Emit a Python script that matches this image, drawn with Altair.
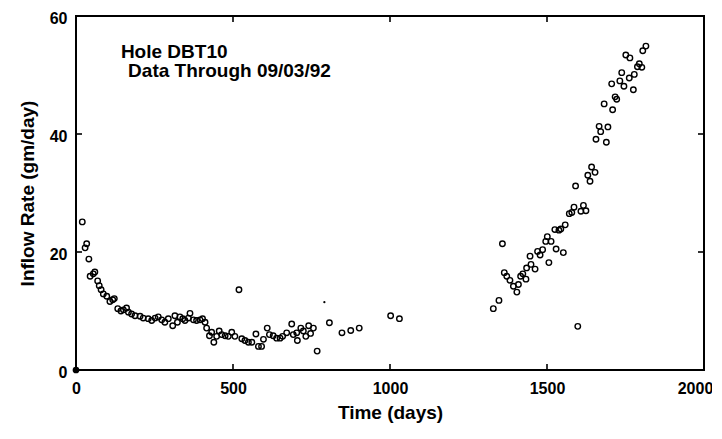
import altair as alt
import pandas as pd

# Hole DBT10 inflow rate readings
days = [20, 29, 34, 41, 45, 55, 60, 69, 74, 80, 87, 98, 108, 117, 122, 133, 143, 151, 161,
        167, 177, 188, 204, 214, 230, 241, 252, 262, 273, 283, 294, 308, 315, 323, 331, 340,
        347, 358, 363, 374, 384, 395, 403, 411, 416, 425, 432, 439, 448, 456, 464, 475, 485,
        496, 506, 519, 528, 538, 549, 560, 573, 581, 591, 597, 609, 616, 628, 639, 650, 658,
        671, 687, 692, 703, 705, 716, 724, 732, 741, 747, 756, 768, 807, 847, 875, 902,
        1002, 1030,
        1329, 1347, 1358, 1364, 1372, 1382, 1393, 1404, 1409, 1416, 1423, 1433, 1435, 1446,
        1449, 1462, 1470, 1478, 1486, 1496, 1501, 1506, 1513, 1525, 1529, 1538, 1544, 1552,
        1558, 1571, 1579, 1586, 1591, 1598, 1608, 1616, 1624, 1630, 1637, 1642, 1653, 1656,
        1666, 1671, 1682, 1689, 1694, 1706, 1709, 1717, 1722, 1732, 1738, 1745, 1751, 1762,
        1764, 1775, 1778, 1788, 1794, 1802, 1805, 1815]
rates = [25.1, 20.7, 21.4, 18.8, 15.9, 16.3, 16.6, 15.1, 14.3, 13.6, 12.9, 12.5, 11.6, 11.9,
         12.1, 10.4, 10.0, 10.2, 10.5, 9.8, 9.5, 9.2, 9.1, 8.8, 8.7, 8.4, 8.8, 9.0, 8.5, 8.1,
         8.7, 7.5, 9.2, 8.1, 9.0, 8.7, 8.4, 8.8, 9.6, 8.5, 8.4, 8.5, 8.7, 8.1, 7.1, 5.8, 6.4,
         4.7, 5.7, 6.6, 6.0, 5.8, 5.7, 6.4, 5.7, 13.6, 5.3, 5.0, 4.7, 4.7, 6.1, 4.0, 4.0, 5.2,
         7.1, 6.0, 5.8, 5.4, 5.4, 5.7, 6.3, 7.8, 6.0, 6.3, 5.0, 7.1, 6.6, 5.7, 7.5, 6.2, 7.1,
         3.2, 8.0, 6.3, 6.7, 7.1,
         9.2, 8.7,
         10.4, 11.8, 21.4, 16.5, 15.9, 15.2, 14.2, 13.2, 14.5, 15.9, 16.3, 15.4, 17.3, 19.3,
         17.9, 17.1, 20.1, 19.5, 20.4, 21.8, 22.6, 18.2, 21.8, 23.8, 20.5, 23.7, 23.9, 19.9,
         24.6, 26.5, 26.7, 27.6, 31.2, 7.4, 26.9, 27.9, 27.0, 33.0, 32.0, 34.4, 33.5, 39.1,
         41.3, 40.4, 45.1, 38.6, 41.2, 48.5, 44.1, 46.3, 45.9, 49.0, 50.4, 48.1, 53.4, 49.5,
         52.9, 47.5, 50.1, 51.4, 51.9, 51.3, 54.1, 54.9]

origin_day = [0]
origin_rate = [0]
small_day = [791]
small_rate = [11.5]

x_ticks = [500, 1000, 1500]
y_ticks = [20, 40]

note_lines = ["Hole DBT10", "Data Through 09/03/92"]
note_day = [143, 166]
note_rate = [52.8, 49.7]

W, H = 628, 354
FONT = "Liberation Sans"

df = pd.DataFrame({"day": days, "rate": rates})
df_origin = pd.DataFrame({"day": origin_day, "rate": origin_rate})
df_small = pd.DataFrame({"day": small_day, "rate": small_rate})
df_xt = pd.DataFrame({"day": x_ticks})
df_yt = pd.DataFrame({"rate": y_ticks})
df_note = pd.DataFrame({"day": note_day, "rate": note_rate, "label": note_lines})
df_one = pd.DataFrame({"k": [0]})

X = alt.X("day:Q", scale=alt.Scale(domain=[0, 2000], nice=False, zero=False),
          axis=alt.Axis(values=[0, 500, 1000, 1500, 2000], title="Time (days)", grid=False,
                        domain=False, ticks=False, labelPadding=10, format="d",
                        labelFlush=False,
                        labelOffset=alt.expr("datum.value == 2000 ? -9 : 0"),
                        titleBaseline="alphabetic", titleY=48))
Y = alt.Y("rate:Q", scale=alt.Scale(domain=[0, 60], nice=False, zero=False),
          axis=alt.Axis(values=[0, 20, 40, 60], title="Inflow Rate (gm/day)", grid=False,
                        domain=False, ticks=False, labelPadding=9, titlePadding=12,
                        format="d", labelOffset=2))

# frame drawn as thin filled bars (left, right, top, bottom)
frame_l = alt.Chart(df_one).mark_rect(color="black").encode(
    x=alt.value(-1), x2=alt.value(1), y=alt.value(-1), y2=alt.value(H + 1))
frame_r = alt.Chart(df_one).mark_rect(color="black").encode(
    x=alt.value(W - 1), x2=alt.value(W + 1), y=alt.value(-1), y2=alt.value(H + 1))
frame_t = alt.Chart(df_one).mark_rect(color="black").encode(
    x=alt.value(-1), x2=alt.value(W + 1), y=alt.value(-1), y2=alt.value(1))
frame_b = alt.Chart(df_one).mark_rect(color="black").encode(
    x=alt.value(-1), x2=alt.value(W + 1), y=alt.value(H - 1), y2=alt.value(H + 1))

pts = alt.Chart(df).mark_point(shape="circle", filled=False, color="black", size=30,
                               strokeWidth=1.4, opacity=1).encode(x=X, y=Y)
origin = alt.Chart(df_origin).mark_point(shape="circle", filled=True, color="black",
                                         size=45, opacity=1).encode(x=X, y=Y)
small = alt.Chart(df_small).mark_point(shape="circle", filled=True, color="black",
                                       size=5, opacity=1).encode(x=X, y=Y)

# inward ticks as small filled tick marks
tb = alt.Chart(df_xt).mark_tick(color="black", orient="vertical", thickness=1.6, size=6,
                                opacity=1).encode(x=X, y=alt.value(H - 3))
tt = alt.Chart(df_xt).mark_tick(color="black", orient="vertical", thickness=1.6, size=6,
                                opacity=1).encode(x=X, y=alt.value(3))
tl = alt.Chart(df_yt).mark_tick(color="black", orient="horizontal", thickness=1.6, size=6,
                                opacity=1).encode(y=Y, x=alt.value(3))
tr = alt.Chart(df_yt).mark_tick(color="black", orient="horizontal", thickness=1.6, size=6,
                                opacity=1).encode(y=Y, x=alt.value(W - 3))

note = alt.Chart(df_note).mark_text(align="left", baseline="alphabetic", font=FONT,
                                    fontWeight="bold", fontSize=19, color="black").encode(
    x=X, y=Y, text="label:N")

chart = alt.layer(pts, origin, small, tb, tt, tl, tr, frame_l, frame_r, frame_t, frame_b,
                  note).properties(
    width=W, height=H,
    autosize=alt.AutoSizeParams(type="none"),
    padding={"left": 68, "top": 8, "right": 8, "bottom": 54},
).configure_view(
    strokeWidth=0
).configure_axis(
    labelFont=FONT, labelFontWeight="bold", labelFontSize=16, labelColor="black",
    titleFont=FONT, titleFontWeight="bold", titleFontSize=19, titleColor="black",
)

chart.save("out.html", embed_options={"renderer": "svg", "actions": False})
